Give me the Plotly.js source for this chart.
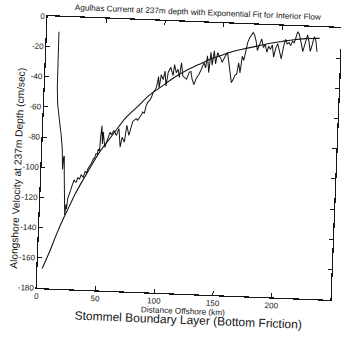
<!DOCTYPE html>
<html>
<head>
<meta charset="utf-8">
<script src="https://cdn.plot.ly/plotly-3.0.1.min.js"></script>
<style>
  html, body { margin: 0; padding: 0; background: #fff; overflow: hidden; }
  #chart { width: 341px; height: 338px; transform: rotate(2.3deg); transform-origin: 189px 158px; }
</style>
</head>
<body>
<div id="chart"></div>
<script>
// Observed alongshore velocity at 237 m depth (cm/sec) vs distance offshore (km)
const distanceKm = [
  10.2, 10.4, 10.7, 11.6, 12.6, 13.5, 14.5, 15.6, 16.4, 17.1, 17.5, 17.9, 18.4, 19.0, 19.5,
  20.4, 21.3, 22.0, 22.6, 23.3, 24.2, 25.3, 26.7, 28.1, 29.2, 30.1, 31.1, 32.8, 33.9, 35.8,
  37.2, 38.6, 39.4, 41.3, 42.5, 43.8, 44.8, 45.8, 46.8, 47.6, 48.7, 49.2, 50.0, 50.9, 51.3,
  52.2, 53.1, 54.4, 55.5, 57.1, 58.3, 60.3, 62.6, 64.5, 66.1, 67.5, 69.5, 71.1, 73.1, 74.5,
  75.9, 78.7, 80.1, 82.8, 84.2, 85.5, 86.9, 88.3, 89.6, 91.0, 92.4, 93.7, 95.0, 96.4, 97.2,
  98.6, 100.4, 101.7, 103.0, 104.4, 106.5, 108.6, 109.6, 111.3, 112.7, 114.0, 115.4, 117.0, 118.3, 120.2,
  122.3, 123.7, 125.0, 126.6, 128.5, 130.6, 132.5, 134.6, 136.0, 137.3, 138.8, 140.1, 141.5, 142.9, 144.3,
  145.8, 147.2, 148.5, 149.9, 151.3, 152.8, 154.2, 155.6, 157.0, 158.4, 159.8, 161.2, 162.6, 164.0, 165.4,
  166.8, 168.2, 169.6, 171.0, 172.4, 173.8, 175.3, 176.6, 178.0, 179.4, 181.0, 182.8, 184.5, 186.0, 187.5,
  189.0, 190.5, 192.0, 193.4, 195.0, 196.5, 198.0, 199.0, 200.0, 201.5, 203.0, 204.5, 206.0, 207.5, 209.0,
  210.5, 212.0, 213.2, 214.5, 216.0, 217.0, 218.0, 219.5, 220.5, 221.6, 223.0, 224.4, 225.8, 227.4, 228.8,
  230.1
];
const velocity = [
  -10, -30, -47, -58, -64, -69, -73, -78, -82, -88, -95, -101, -93, -92, -103,
  -116, -131, -124, -127, -120, -117, -115, -111, -107.5, -109, -108.7, -106, -106.8, -104, -105.5,
  -101.6, -102.6, -100, -97.4, -95.8, -93, -92.5, -89.6, -90, -86.5, -87.8, -78.7, -71, -83, -75,
  -80.4, -85.2, -81.9, -78.5, -75, -76.6, -73.8, -77, -72.4, -84.7, -78, -81.2, -70, -76.6, -71,
  -67.5, -65.4, -66.4, -63, -60.8, -61.7, -56.3, -54, -53, -50.8, -47.4, -46.2, -44, -36.9, -44.5,
  -35.7, -38.9, -33.2, -43, -34, -30.5, -36, -28.6, -34, -31.6, -37, -27.2, -36, -37, -38,
  -33.3, -32.7, -38, -41.3, -37, -34.4, -31, -26.5, -30, -22, -33, -19.5, -28, -18.5, -27,
  -19.5, -22, -23, -25.9, -23, -21, -19.3, -25, -33, -39, -37, -34, -33.5, -25.7, -32.4,
  -21.3, -24, -17.5, -12, -9, -7.5, -5.3, -7, -10.7, -17.1, -13, -9.3, -15, -13, -18,
  -14, -16, -13, -21, -15, -12, -16, -19, -22, -14, -9, -12, -11, -13, -10,
  -11, -7, -3.6, -5, -9, -13, -16.7, -12, -8, -5.5, -10, -16.3, -12, -6.4, -9,
  -16.3
];

// Exponential fit for the interior flow
const fitDistanceKm = [4, 10, 15, 20, 25, 30, 40, 50, 60, 70, 80, 90, 100, 110, 120, 130, 140, 150, 160, 170, 180, 190, 200, 210, 220, 230, 232];
const fitVelocity = [-167, -155, -144, -134, -125, -116, -101, -87, -76, -65, -57, -49, -43, -37, -32, -28, -24, -21, -18, -16, -14, -12, -10.5, -9, -8, -7.5, -7.3];

// Axis ticks
const xTickVals = [0, 50, 100, 150, 200, 250];
const xTickText = ['0', '50', '100', '150', '200', '250'];
const yTickVals = [0, -20, -40, -60, -80, -100, -120, -140, -160, -180];
const yTickText = ['0', '-20', '-40', '-60', '-80', '-100', '-120', '-140', '-160', '-180'];

const ink = '#151515';
const fontFamily = 'Liberation Sans, Arial, Helvetica, sans-serif';

const traces = [
  {
    x: distanceKm, y: velocity, type: 'scatter', mode: 'lines',
    line: { color: ink, width: 1 }, hoverinfo: 'skip', showlegend: false
  },
  {
    x: fitDistanceKm, y: fitVelocity, type: 'scatter', mode: 'lines',
    line: { color: ink, width: 1.1, shape: 'spline', smoothing: 1 }, hoverinfo: 'skip', showlegend: false
  }
];

const axisCommon = {
  showline: true, linecolor: ink, linewidth: 1.2, mirror: 'ticks',
  ticks: 'inside', ticklen: 4, tickwidth: 1, tickcolor: ink,
  showgrid: false, zeroline: false, tickfont: { family: fontFamily, size: 8, color: ink }
};

const layout = {
  width: 341, height: 338,
  margin: { l: 42, r: 5, t: 22, b: 44 },
  paper_bgcolor: '#fff', plot_bgcolor: '#fff',
  font: { family: fontFamily, color: ink },
  title: {
    text: 'Agulhas Current at 237m depth with Exponential Fit for Interior Flow',
    font: { family: fontFamily, size: 8.2, color: ink },
    xref: 'paper', x: 0.51, xanchor: 'center',
    yref: 'container', y: 0.965, yanchor: 'middle'
  },
  xaxis: Object.assign({}, axisCommon, {
    range: [0, 250], tickvals: xTickVals, ticktext: xTickText,
    title: { text: 'Distance Offshore (km)', font: { family: fontFamily, size: 8.2, color: ink }, standoff: 2 }
  }),
  yaxis: Object.assign({}, axisCommon, {
    range: [-180, 0], tickvals: yTickVals, ticktext: yTickText
  }),
  annotations: [
    {
      text: 'Alongshore Velocity at 237m Depth (cm/sec)',
      xref: 'paper', yref: 'paper', x: -0.083, y: 0.4375,
      xanchor: 'center', yanchor: 'middle', textangle: -90, showarrow: false,
      font: { family: fontFamily, size: 10.2, color: ink }
    },
    {
      text: 'Stommel Boundary Layer (Bottom Friction)',
      xref: 'paper', yref: 'paper', x: 0.519, y: -0.096,
      xanchor: 'center', yanchor: 'middle', showarrow: false,
      font: { family: fontFamily, size: 12, color: ink }
    }
  ]
};

Plotly.newPlot('chart', traces, layout, { staticPlot: true, displayModeBar: false });
</script>
</body>
</html>
